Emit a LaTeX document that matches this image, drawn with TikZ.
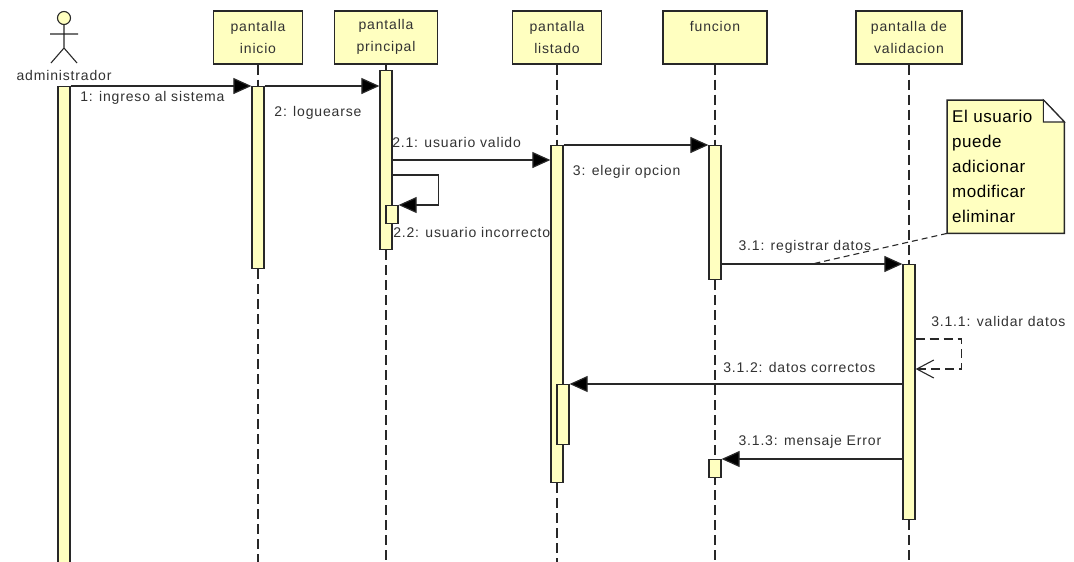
\documentclass[tikz,border=0pt]{standalone}
\usepackage{fontspec}
\setmainfont{Liberation Sans}[LetterSpace=6]
\newfontfamily\notefont{Liberation Sans}[LetterSpace=3]
\usetikzlibrary{arrows.meta,backgrounds}
\definecolor{umlfill}{RGB}{255,255,192}
\definecolor{umlline}{RGB}{40,40,40}
\definecolor{umltext}{RGB}{50,50,50}

\begin{document}
\begin{tikzpicture}[x=1pt, y=-1pt]
\tikzset{
    header/.style={rectangle, draw=umlline, line width=1.6pt, fill=umlfill, minimum height=53pt, anchor=north, align=center, inner sep=2pt, font=\fontsize{14}{22}\selectfont, text=umltext},
    bar/.style={rectangle, draw=umlline, line width=1.3pt, fill=umlfill, minimum width=12pt, inner sep=0pt, anchor=north},
    lifeline/.style={draw=umlline, line width=1.1pt, dash pattern=on 10pt off 5pt},
    msg/.style={draw=umlline, line width=1.2pt, -{Triangle[length=18pt, width=16pt, fill=black]}},
    reply/.style={draw=umlline, line width=1.2pt, dash pattern=on 9pt off 5pt, -{Straight Barb[length=17pt, width=18pt, line width=1.1pt]}},
    msglabel/.style={anchor=west, inner sep=0pt, font=\fontsize{14}{17}\selectfont, text=umltext},
    notebox/.style={rectangle, anchor=north west, text width=107pt, minimum height=133pt, inner sep=5pt, align=left, font=\notefont\fontsize{17}{25}\selectfont, text=black}
}
  \useasboundingbox (0,0) rectangle (1074,562);
  \coordinate (bottom) at (0,563);

  % actor
  \node[msglabel, anchor=center] (admin) at (64,75) {administrador};
  \draw[umlline, line width=1.1pt, fill=umlfill] (64,18) circle[radius=6.5pt];
  \draw[umlline, line width=1.1pt] (64,24.5) -- (64,48) (50,34) -- (78,34) (51,63) -- (64,48) -- (77,63);

  % lifeline heads
  \node[header, minimum width=89pt] (inicio) at (258,10) {pantalla\\inicio};
  \node[header, minimum width=103pt] (principal) at (386,10) {pantalla\\principal};
  \node[header, minimum width=89pt] (listado) at (557,10) {pantalla\\listado};
  \node[header, minimum width=104pt] (funcion) at (715,10) {funcion\\\mbox{}};
  \node[header, minimum width=106pt] (validacion) at (909,10) {pantalla de\\validacion};

  % activations
  \node[bar, minimum height=477pt] (barAdmin) at (64,86) {};
  \node[bar, minimum height=182pt] (barInicio) at (258,86) {};
  \node[bar, minimum height=179pt] (barPrincipal) at (386,70) {};
  \node[bar, minimum height=18pt] (barPrincipal2) at (392,205) {};
  \node[bar, minimum height=337pt] (barListado) at (557,145) {};
  \node[bar, minimum height=60pt] (barListado2) at (563,384) {};
  \node[bar, minimum height=134pt] (barFuncion) at (715,145) {};
  \node[bar, minimum height=18pt] (barFuncion2) at (715,459) {};
  \node[bar, minimum height=255pt] (barValid) at (909,264) {};

  % messages
  \coordinate (m21) at ([yshift=-15pt]barListado.north west);
  \coordinate (m22) at ([yshift=30pt]barPrincipal2.north east);
  \draw[msg] (barAdmin.north east) -- node[msglabel, pos=0.05, yshift=-12pt] {1: ingreso al sistema} (barInicio.north west);
  \draw[msg] (barInicio.north east) -- node[msglabel, pos=0.08, yshift=-27pt] {2: loguearse} (barInicio.north east -| barPrincipal.west);
  \draw[msg] (barPrincipal.east |- m21) -- node[msglabel, pos=0, xshift=-1pt, yshift=18pt] {2.1: usuario valido} (m21);
  \draw[msg] (barPrincipal.east |- m22) -- ++(46,0) |- node[msglabel, at end, xshift=-6pt, yshift=-27pt] {2.2: usuario incorrecto} (barPrincipal2.north east);
  \draw[msg] (barListado.north east) -- node[msglabel, pos=0.06, yshift=-27pt] {3: elegir opcion} (barFuncion.north west);
  \draw[msg] (barFuncion.east |- barValid.north) -- node[msglabel, pos=0.09, yshift=17pt] {3.1: registrar datos} coordinate[pos=0.5] (noteEnd) (barValid.north west);
  \draw[reply] ([yshift=-75pt]barValid.north east) node[msglabel, xshift=15pt, yshift=18pt] {3.1.1: validar datos} -- ++(46,0) |- ([yshift=-105pt]barValid.north east);
  \draw[msg] (barValid.west |- barListado2.north) -- node[msglabel, pos=0.54, yshift=17pt] {3.1.2: datos correctos} (barListado2.north east);
  \draw[msg] (barValid.west |- barFuncion2.north) -- node[msglabel, pos=0.91, yshift=17pt] {3.1.3: mensaje Error} (barFuncion2.north east);

  % note
  \node[notebox] (note) at (947,100) {El usuario\\puede\\adicionar\\modificar\\eliminar};
  \draw[umlline, line width=1.1pt, dash pattern=on 6pt off 4pt] (note.south west) -- (noteEnd);

  \begin{scope}[on background layer]
    \fill[white] (0,0) rectangle (1074,562);
    \foreach \h/\b in {inicio/barInicio, principal/barPrincipal, listado/barListado, funcion/barFuncion, validacion/barValid}{
      \draw[lifeline] (\h.south) -- (\b.north);
      \draw[lifeline] (\b.south) -- (\b.south |- bottom);
    }
    \draw[umlline, line width=1.5pt, fill=umlfill] (note.north west) -- ([xshift=-21pt]note.north east) -- ([yshift=-22pt]note.north east) -- (note.south east) -- (note.south west) -- cycle;
    \draw[umlline, line width=1.1pt, fill=white] ([xshift=-21pt]note.north east) -- ([xshift=-21pt, yshift=-22pt]note.north east) -- ([yshift=-22pt]note.north east) -- cycle;
  \end{scope}
\end{tikzpicture}
\end{document}
